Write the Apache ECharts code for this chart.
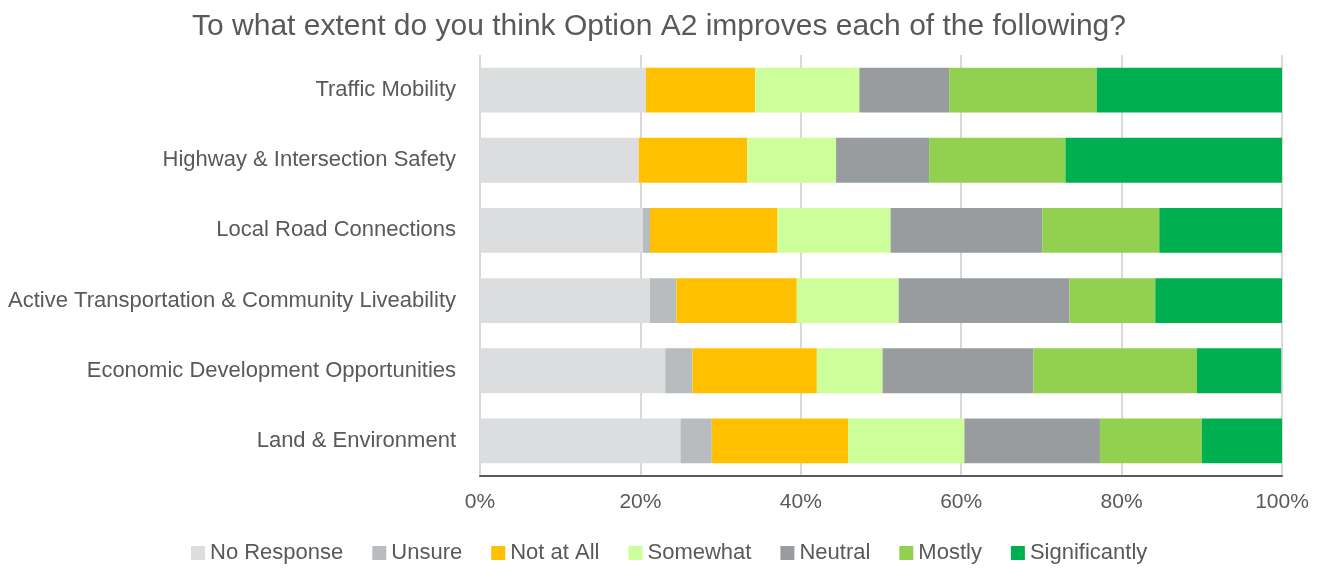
<!DOCTYPE html>
<html>
<head>
<meta charset="utf-8">
<script src="https://cdn.jsdelivr.net/npm/echarts@6/dist/echarts.min.js"></script>
<style>
  html, body { margin: 0; padding: 0; background: #fff; }
  #chart { width: 1318px; height: 569px; }
</style>
</head>
<body>
<div id="chart"></div>
<script>
// categories, top to bottom as in the picture
const categories = [
  'Traffic Mobility',
  'Highway & Intersection Safety',
  'Local Road Connections',
  'Active Transportation & Community Liveability',
  'Economic Development Opportunities',
  'Land & Environment'
];
const seriesNames = ['No Response', 'Unsure', 'Not at All', 'Somewhat', 'Neutral', 'Mostly', 'Significantly'];

// percentages per category (same order as categories)
const noResponse    = [20.7, 19.8, 20.3, 21.2, 23.1, 25.0];
const unsure        = [0.0, 0.0, 0.9, 3.3, 3.4, 3.9];
const notAtAll      = [13.6, 13.5, 15.9, 15.0, 15.5, 17.0];
const somewhat      = [13.0, 11.1, 14.1, 12.7, 8.2, 14.5];
const neutral       = [11.2, 11.6, 18.9, 21.3, 18.8, 16.9];
const mostly        = [18.4, 17.0, 14.6, 10.7, 20.4, 12.7];
const significantly = [23.1, 27.0, 15.3, 15.8, 10.5, 10.0];

const xTicks = [0, 20, 40, 60, 80, 100];

const seriesData = [noResponse, unsure, notAtAll, somewhat, neutral, mostly, significantly];
const colors = ['#DCDDDE', '#B9BCBE', '#FFC000', '#CCFF99', '#989C9E', '#92D050', '#00B050'];

const font = "'Liberation Sans Narrow', 'Arial Narrow', 'Liberation Sans', sans-serif";
const chart = echarts.init(document.getElementById('chart'));

const option = {
  animation: false,
  color: colors,
  textStyle: { fontFamily: font },
  title: {
    text: 'To what extent do you think Option A2 improves each of the following?',
    left: 'center',
    top: 7,
    textStyle: { fontFamily: font, fontSize: 30, fontWeight: 'normal', color: '#595959' }
  },
  legend: {
    data: seriesNames,
    bottom: 0,
    left: 186,
    icon: 'rect',
    itemWidth: 14,
    itemHeight: 14,
    itemGap: 29,
    textStyle: { fontFamily: font, fontSize: 22, color: '#595959' }
  },
  grid: { left: 480, right: 36, top: 55, bottom: 93, containLabel: false },
  xAxis: {
    type: 'value',
    min: 0,
    max: 100,
    interval: 20,
    axisLine: { show: true, lineStyle: { color: '#595959', width: 2 } },
    axisTick: { show: false },
    splitLine: { lineStyle: { color: '#D9D9D9', width: 2 } },
    axisLabel: {
      margin: 16,
      fontFamily: font,
      fontSize: 21,
      color: '#595959',
      formatter: v => (xTicks.indexOf(v) >= 0 ? v + '%' : '')
    }
  },
  yAxis: {
    type: 'category',
    inverse: true,
    data: categories,
    axisLine: { show: false },
    axisTick: { show: false },
    axisLabel: { margin: 24, fontFamily: font, fontSize: 22, color: '#595959' }
  },
  series: seriesNames.map((name, i) => ({
    name: name,
    type: 'bar',
    stack: 'total',
    barWidth: '64%',
    data: seriesData[i],
    itemStyle: { color: colors[i] }
  }))
};

chart.setOption(option);
</script>
</body>
</html>
